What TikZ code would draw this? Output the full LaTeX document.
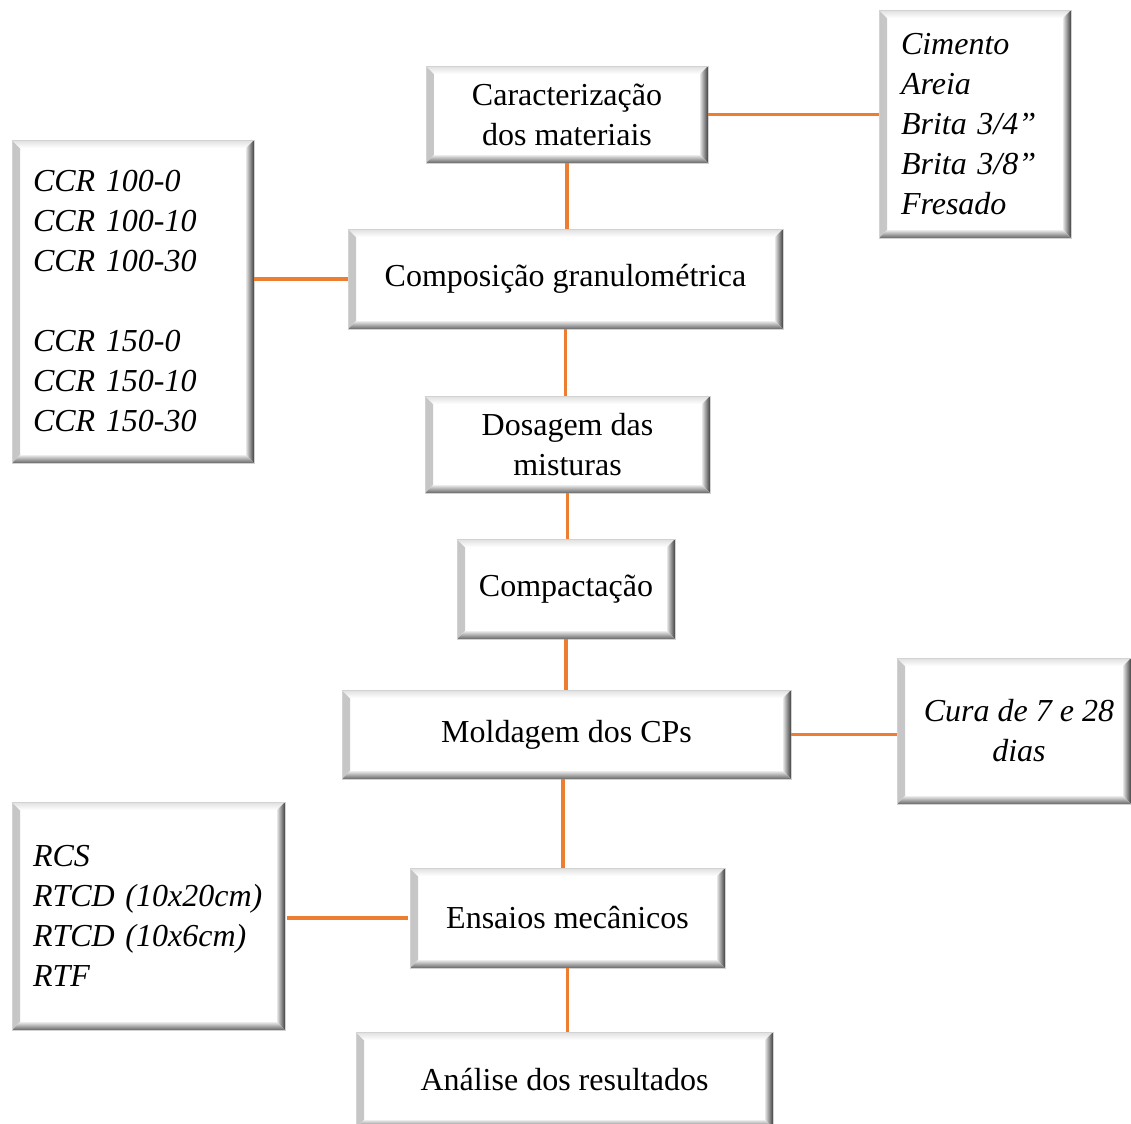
\documentclass[tikz,border=0pt]{standalone}
\usepackage{fontspec}
\setmainfont{Liberation Serif}
\usepackage{tikz}
\usetikzlibrary{calc}
\definecolor{linkorange}{RGB}{237,125,49}
\newcommand{\bevw}{4pt}
\tikzset{
	bevelbox/.style={rectangle, draw=gray!35, line width=0.4pt, fill=white, inner sep=0pt,
		font=\fontsize{16}{20}\selectfont, align=center,
		path picture={
			\shade[left color=gray!45, right color=white]
			(path picture bounding box.south west) -- (path picture bounding box.north west)
			-- ([shift={(\bevw,-\bevw)}]path picture bounding box.north west)
			-- ([shift={(\bevw,\bevw)}]path picture bounding box.south west) -- cycle;
			\shade[top color=gray!25, bottom color=white]
			(path picture bounding box.north west) -- (path picture bounding box.north east)
			-- ([shift={(-\bevw,-\bevw)}]path picture bounding box.north east)
			-- ([shift={(\bevw,-\bevw)}]path picture bounding box.north west) -- cycle;
			\shade[left color=gray!20, right color=black!75]
			(path picture bounding box.north east) -- (path picture bounding box.south east)
			-- ([shift={(-\bevw,\bevw)}]path picture bounding box.south east)
			-- ([shift={(-\bevw,-\bevw)}]path picture bounding box.north east) -- cycle;
			\shade[top color=gray!15, bottom color=black!60]
			(path picture bounding box.south west) -- (path picture bounding box.south east)
			-- ([shift={(-\bevw,\bevw)}]path picture bounding box.south east)
			-- ([shift={(\bevw,\bevw)}]path picture bounding box.south west) -- cycle;
		}},
	listbox/.style={bevelbox, align=left, inner xsep=10.5pt, font=\fontsize{16}{20}\selectfont\itshape},
	link/.style={draw=linkorange, line width=1.75pt, shorten <=1pt, shorten >=1pt}
}
\begin{document}
\begin{tikzpicture}[x=0.5pt, y=-0.5pt]
	\useasboundingbox (0,0) rectangle (1131,1124);
	% main chain
	\node[bevelbox, minimum width=141pt, minimum height=48.5pt] (car) at (567,114.5) {Caracterização\\dos materiais};
	\node[bevelbox, minimum width=217.5pt, minimum height=50pt] (comp) at (565.5,279) {Composição granulométrica};
	\node[bevelbox, minimum width=142.5pt, minimum height=48.5pt] (dos) at (567.5,444.5) {Dosagem das\\misturas};
	\node[bevelbox, minimum width=109pt, minimum height=50pt] (cpt) at (566,589) {Compactação};
	\node[bevelbox, minimum width=224.5pt, minimum height=44.5pt] (mol) at (566.5,734.5) {Moldagem dos CPs};
	\node[bevelbox, minimum width=157.5pt, minimum height=50pt] (ens) at (567.5,918) {Ensaios mecânicos};
	\node[bevelbox, minimum width=208.5pt, minimum height=48pt] (ana) at (564.5,1080) {Análise dos resultados};
	% side boxes
	\node[listbox, inner xsep=11pt, text width=74pt, minimum height=114pt] (mat) at (975,124) {Cimento\\Areia\\Brita 3/4”\\Brita 3/8”\\Fresado};
	\node[listbox, text width=100pt, minimum height=161.5pt] (ccr) at (133,301.5) {CCR 100-0\\CCR 100-10\\CCR 100-30\\[20pt]CCR 150-0\\CCR 150-10\\CCR 150-30};
	\node[bevelbox, font=\fontsize{16}{20}\selectfont\itshape, minimum width=117pt, minimum height=73pt] (cura) at (1014,731) {\hspace{5pt}Cura de 7 e 28\\\hspace{5pt}dias};
	\node[listbox, text width=115.5pt, minimum height=114pt] (rcs) at (148.5,916) {RCS\\RTCD (10x20cm)\\RTCD (10x6cm)\\RTF};
	% connectors
	\path[link]
	(car.south) -- (car.south |- comp.north)
	(comp.south) -- (comp.south |- dos.north)
	(dos.south) -- (dos.south |- cpt.north)
	(cpt.south) -- (cpt.south |- mol.north)
	([xshift=-1.75pt]mol.south) -- ([xshift=-1.75pt]mol.south |- ens.north)
	(ens.south) -- (ens.south |- ana.north)
	(car.east) -- (car.east -| mat.west)
	(comp.west) -- (comp.west -| ccr.east)
	(mol.east) -- (mol.east -| cura.west)
	(ens.west) -- (ens.west -| rcs.east);
\end{tikzpicture}
\end{document}
